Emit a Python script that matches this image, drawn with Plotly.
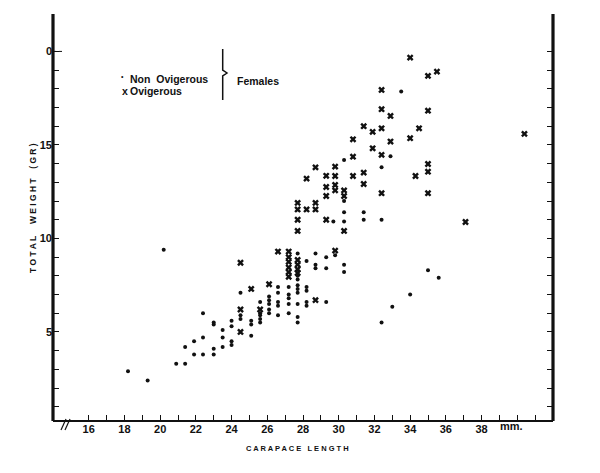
import plotly.graph_objects as go

# ---- data (carapace length mm, total weight g) ----
non_ovig_len = [18.2, 19.3, 20.2, 20.9, 21.4, 21.4, 21.9, 21.9, 22.4, 22.4, 22.4,
                23.0, 23.0, 23.0, 23.0, 23.5, 23.5, 23.5, 24.0, 24.0, 24.0, 24.0,
                24.5, 24.5, 24.5, 25.1, 25.1, 25.1, 25.6, 25.6, 25.6, 25.6, 25.6,
                26.1, 26.1, 26.1, 26.1, 26.1, 26.6, 26.6, 26.6, 26.6, 26.6,
                27.2, 27.2, 27.2, 27.2, 27.2, 27.7, 27.7, 27.7, 27.7, 27.7, 27.7,
                27.7, 27.7, 27.7, 28.2, 28.2, 28.2, 28.2, 28.2, 28.7, 28.7, 28.7,
                29.3, 29.3, 29.3, 29.7, 29.8, 30.3, 30.3, 30.3, 30.3, 30.3, 30.3,
                31.4, 31.4, 32.4, 32.4, 32.4, 32.9, 33.0, 33.5, 34.0, 35.0, 35.6]
non_ovig_wt = [2.9, 2.4, 9.4, 3.3, 3.3, 4.2, 4.5, 3.8, 6.0, 4.7, 3.8,
               5.5, 5.4, 4.1, 3.8, 5.1, 4.7, 4.2, 5.6, 5.3, 4.5, 4.3,
               7.1, 5.9, 5.7, 5.6, 5.4, 4.8, 6.6, 6.0, 5.9, 5.7, 5.5,
               6.9, 6.7, 6.5, 6.2, 6.0, 7.4, 7.1, 6.6, 6.4, 5.9,
               7.4, 7.0, 6.8, 6.5, 6.0, 9.2, 8.0, 7.8, 7.5, 7.3, 7.1,
               6.5, 5.8, 5.5, 8.8, 7.4, 7.2, 6.6, 6.4, 9.2, 8.6, 8.4,
               9.0, 8.4, 6.6, 10.9, 9.1, 14.2, 12.0, 11.4, 10.9, 8.6, 8.2,
               11.4, 11.0, 13.8, 11.0, 5.5, 14.4, 6.35, 17.85, 7.0, 8.3, 7.9]

ovig_len = [24.5, 24.5, 24.5, 25.1, 25.6, 26.1, 26.6,
            27.2, 27.2, 27.2, 27.2, 27.2, 27.2,
            27.7, 27.7, 27.7, 27.7, 27.7, 27.7, 27.7, 27.7,
            28.2, 28.2, 28.7, 28.7, 28.7, 28.7,
            29.3, 29.3, 29.3, 29.3, 29.8, 29.8, 29.8, 29.8, 29.8,
            30.3, 30.3, 30.3, 30.8, 30.8, 30.8, 31.4, 31.4, 31.4,
            31.9, 31.9, 32.4, 32.4, 32.4, 32.4, 32.4, 32.9, 32.9,
            34.0, 34.0, 34.3, 34.5, 35.0, 35.0, 35.0, 35.0, 35.0, 35.5,
            37.1, 40.4]
ovig_wt = [8.7, 6.2, 5.0, 7.3, 6.2, 7.55, 9.3,
           9.3, 9.0, 8.75, 8.45, 8.2, 7.95,
           11.9, 11.55, 11.0, 10.4, 8.85, 8.6, 8.35, 8.15,
           13.2, 11.55, 13.8, 11.9, 11.55, 6.7,
           13.35, 12.75, 12.27, 11.0, 13.84, 13.34, 12.86, 12.57, 9.35,
           12.57, 12.27, 10.4, 15.3, 14.37, 13.34, 16.0, 13.52, 12.91,
           15.7, 14.82, 17.94, 16.91, 15.89, 14.47, 12.42, 16.55, 15.18,
           19.67, 15.36, 13.34, 15.89, 18.69, 16.83, 13.98, 13.57, 12.42, 18.92,
           10.88, 15.59]

x_tick_vals = [16, 17, 18, 19, 20, 21, 22, 23, 24, 25, 26, 27, 28, 29, 30,
               31, 32, 33, 34, 35, 36, 37, 38, 39, 40, 41]
x_tick_text = ["16", "", "18", "", "20", "", "22", "", "24", "", "26", "", "28", "",
               "30", "", "32", "", "34", "", "36", "", "38", "", "", ""]
y_tick_vals = [1, 2, 3, 4, 5, 6, 7, 8, 9, 10, 11, 12, 13, 14, 15, 16, 17, 18, 19, 20]
y_tick_text = ["", "", "", "", "5", "", "", "", "", "10", "", "", "", "", "15",
               "", "", "", "", "0"]

X_RANGE = [14, 42]
Y_RANGE = [0.24, 22.0]

# the page body has an 8px margin: the figure is placed at (8, 8)
OFF = 8
W, H = 600 - OFF, 473 - OFF
PL, PR, PT, PB = 53, 553, 14, 421          # plot area in page pixels
ML, MT = PL - OFF, PT - OFF
MR, MB = W - (PR - OFF), H - (PB - OFF)
PW, PH = PR - PL, PB - PT


def px(x):  # page pixel x -> paper
    return (x - PL) / PW


def py(y):  # page pixel y -> paper
    return (PB - y) / PH


FONT = "Liberation Sans"
INK = "#111111"
SP = "&nbsp;"

fig = go.Figure()
fig.add_trace(go.Scatter(x=non_ovig_len, y=non_ovig_wt, mode="markers",
                         marker=dict(symbol="circle", size=4, color=INK),
                         showlegend=False))
fig.add_trace(go.Scatter(x=ovig_len, y=ovig_wt, mode="markers",
                         marker=dict(symbol="x", size=6, color=INK,
                                     line=dict(width=0)),
                         showlegend=False))
# invisible trace to activate the right-hand axis
fig.add_trace(go.Scatter(x=[None], y=[None], yaxis="y2", showlegend=False,
                         hoverinfo="skip"))

tickfont = dict(family=FONT, size=11, color=INK, weight="bold")

fig.update_layout(
    width=W, height=H,
    margin=dict(l=ML, r=MR, t=MT, b=MB, autoexpand=False),
    paper_bgcolor="white", plot_bgcolor="white",
    xaxis=dict(range=X_RANGE, tickmode="array", tickvals=x_tick_vals,
               ticktext=x_tick_text, ticks="inside", ticklen=6, tickwidth=1.2,
               tickcolor=INK, showgrid=False, zeroline=False, showline=False,
               tickfont=tickfont, automargin=False),
    yaxis=dict(range=Y_RANGE, tickmode="array", tickvals=y_tick_vals,
               ticktext=y_tick_text, ticks="inside", ticklen=6, tickwidth=1.2,
               tickcolor=INK, showgrid=False, zeroline=False, showline=False,
               tickfont=tickfont, automargin=False),
    yaxis2=dict(range=Y_RANGE, overlaying="y", side="right", tickmode="array",
                tickvals=y_tick_vals, ticktext=["" for _ in y_tick_vals],
                ticks="inside", ticklen=6, tickwidth=1.2, tickcolor=INK,
                showgrid=False, zeroline=False, showline=False, automargin=False),
)

# frame lines (left, right, bottom) - no top line
for shp in [dict(x0=0, x1=0, y0=0, y1=1, w=3.2),
            dict(x0=1, x1=1, y0=0, y1=1, w=3.2),
            dict(x0=0, x1=1, y0=0, y1=0, w=2)]:
    fig.add_shape(type="line", xref="paper", yref="paper", layer="above",
                  x0=shp["x0"], x1=shp["x1"], y0=shp["y0"], y1=shp["y1"],
                  line=dict(color=INK, width=shp["w"]))

# short dotted extension of the top tick
fig.add_shape(type="line", xref="paper", yref="y", x0=0, x1=px(64), y0=20, y1=20,
              line=dict(color=INK, width=1, dash="dot"))

# axis break mark crossing the bottom line
for dx in (0, 4):
    fig.add_shape(type="line", xref="paper", yref="paper", layer="above",
                  x0=px(61 + dx), y0=py(430), x1=px(66 + dx), y1=py(419),
                  line=dict(color=INK, width=1.2))

# brace for legend
bx = px(222.7)
fig.add_shape(type="path", xref="paper", yref="paper",
              path=f"M {bx},{py(49)} L {bx},{py(70)} L {px(227)},{py(73)} "
                   f"L {bx},{py(76)} L {bx},{py(100)}",
              line=dict(color=INK, width=1.5))

ann = []
lf = dict(family=FONT, size=10.5, color=INK, weight="bold")
ann.append(dict(xref="paper", yref="paper", x=px(119), y=py(71), text="•",
                showarrow=False, font=dict(family=FONT, size=7, color=INK)))
ann.append(dict(xref="paper", yref="paper", x=px(128), y=py(71), xanchor="left",
                text="Non" + SP * 2 + "Ovigerous", showarrow=False, font=lf))
ann.append(dict(xref="paper", yref="paper", x=px(120), y=py(83), text="x",
                showarrow=False, font=lf))
ann.append(dict(xref="paper", yref="paper", x=px(128), y=py(83), xanchor="left",
                text="Ovigerous", showarrow=False, font=lf))
ann.append(dict(xref="paper", yref="paper", x=px(235), y=py(73), xanchor="left",
                text="Females", showarrow=False, font=lf))
# unit label
ann.append(dict(xref="paper", yref="paper", x=px(498), y=py(434), xanchor="left",
                text="mm.", showarrow=False, font=tickfont))
# axis titles
tf = dict(family=FONT, size=7.5, color=INK, weight="bold")
ann.append(dict(xref="paper", yref="paper", x=px(297), y=py(455),
                text=" ".join("CARAPACE") + SP * 3 + " ".join("LENGTH"),
                showarrow=False, font=tf))
tfy = dict(family=FONT, size=8.5, color=INK, weight="bold")
ann.append(dict(xref="paper", yref="paper", x=px(26), y=py(208),
                text=" ".join("TOTAL") + SP * 5 + " ".join("WEIGHT") + SP * 4
                     + " ".join("(GR)"),
                textangle=-90, showarrow=False, font=tfy))
fig.update_layout(annotations=ann)

fig.write_html("out.html")
